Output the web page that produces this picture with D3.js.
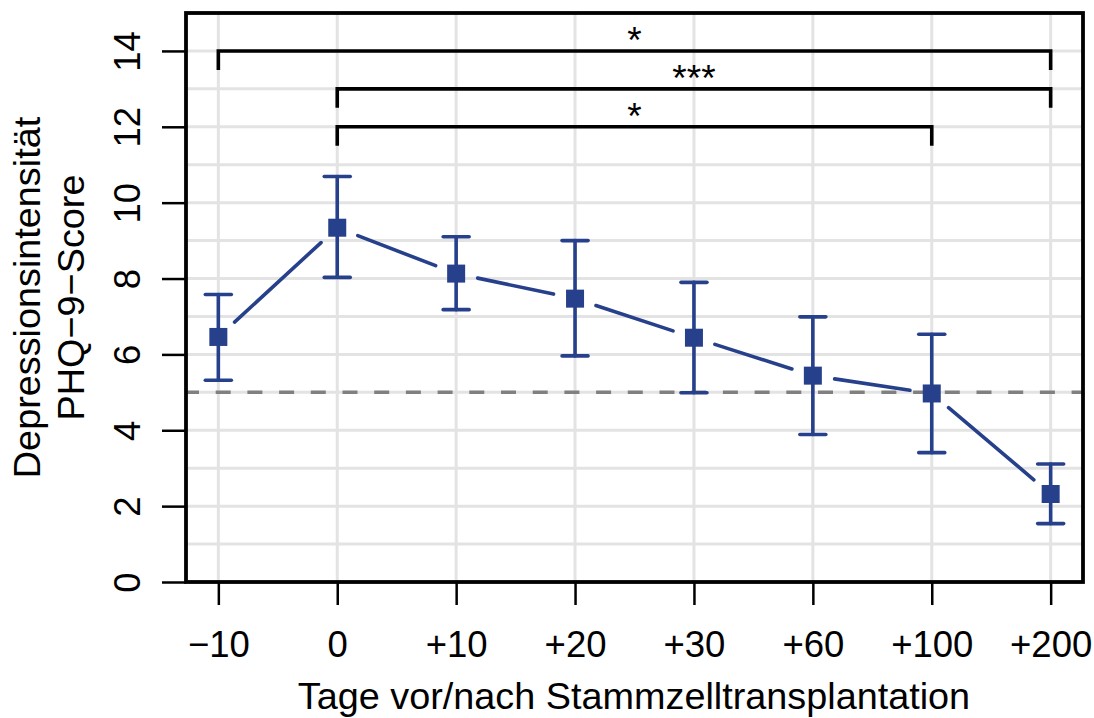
<!DOCTYPE html>
<html>
<head>
<meta charset="utf-8">
<script src="https://cdn.jsdelivr.net/npm/d3@7"></script>
<style>
  html, body { margin: 0; padding: 0; background: #fff; }
  svg { display: block; font-family: "Liberation Sans", Arial, Helvetica, sans-serif; }
</style>
</head>
<body>
<div id="chart"></div>
<script>
// data
const days = ["\u221210", "0", "+10", "+20", "+30", "+60", "+100", "+200"];
const meanScore = [6.46, 9.34, 8.13, 7.47, 6.44, 5.44, 4.97, 2.32];
const upperCI = [7.58, 10.69, 9.10, 9.00, 7.90, 6.99, 6.53, 3.11];
const lowerCI = [5.32, 8.03, 7.18, 5.96, 4.99, 3.89, 3.41, 1.54];
const yTicks = [0, 2, 4, 6, 8, 10, 12, 14];
const cutoff = 5;

// significance brackets
const bracketFrom = ["\u221210", "0", "0"];
const bracketTo = ["+200", "+200", "+100"];
const bracketLevel = [14, 13, 12];
const bracketLabel = ["*", "***", "*"];

const W = 1094, H = 718;
const margin = { top: 13, right: 11, bottom: 136, left: 186 };
const width = W - margin.left - margin.right;
const height = H - margin.top - margin.bottom;
const blue = "#27408B";

const svg = d3.select('#chart')
    .append('svg')
    .attr('width', W)
    .attr('height', H);

const g = svg.append('g')
    .attr('transform', `translate(${margin.left},${margin.top})`);

const x = d3.scalePoint()
    .domain(days)
    .range([0, width])
    .padding(0.272);

const y = d3.scaleLinear()
    .domain([0, 15])
    .range([height, 0]);

// grid
g.append('g')
    .selectAll('line')
    .data(d3.range(0, 16))
    .enter()
    .append('line')
    .attr('x1', 0).attr('x2', width)
    .attr('y1', d => y(d)).attr('y2', d => y(d))
    .attr('stroke', '#e3e3e3')
    .attr('stroke-width', 3);

g.append('g')
    .selectAll('line')
    .data(days)
    .enter()
    .append('line')
    .attr('x1', d => x(d)).attr('x2', d => x(d))
    .attr('y1', 0).attr('y2', height)
    .attr('stroke', '#e3e3e3')
    .attr('stroke-width', 3);

// cutoff line
g.append('line')
    .attr('x1', 0).attr('x2', width)
    .attr('y1', y(cutoff)).attr('y2', y(cutoff))
    .attr('stroke', '#808080')
    .attr('stroke-width', 3.5)
    .attr('stroke-dasharray', '15,16.7')
    .attr('stroke-dashoffset', 2);

// axes
const xAxis = d3.axisBottom(x).tickSize(23).tickPadding(26);
const xg = g.append('g')
    .attr('transform', `translate(0,${height})`)
    .call(xAxis);
xg.select('.domain').remove();
xg.selectAll('line').attr('stroke', '#000').attr('stroke-width', 2.5);
xg.selectAll('text')
    .attr('fill', '#000')
    .style('font-size', '36.5px');

const yAxis = d3.axisLeft(y).tickValues(yTicks).tickSize(24);
const yg = g.append('g').call(yAxis);
yg.select('.domain').remove();
yg.selectAll('line').attr('stroke', '#000').attr('stroke-width', 2.5);
yg.selectAll('text')
    .attr('x', 0)
    .attr('dy', 0)
    .attr('text-anchor', 'middle')
    .attr('transform', 'translate(-46,0) rotate(-90)')
    .attr('fill', '#000')
    .style('font-size', '36.5px');

// connecting line, with gaps round the points
const pts = days.map((d, i) => [x(d), y(meanScore[i])]);
const gap = 22;
const segs = d3.pairs(pts).map(([a, b]) => {
    const dx = b[0] - a[0], dy = b[1] - a[1];
    const len = Math.hypot(dx, dy);
    const ux = dx / len, uy = dy / len;
    return [a[0] + ux * gap, a[1] + uy * gap, b[0] - ux * gap, b[1] - uy * gap];
});
g.append('g')
    .selectAll('line')
    .data(segs)
    .enter()
    .append('line')
    .attr('x1', d => d[0]).attr('y1', d => d[1])
    .attr('x2', d => d[2]).attr('y2', d => d[3])
    .attr('stroke', blue)
    .attr('stroke-width', 3.6)
    .attr('stroke-linecap', 'round');

// error bars
const eb = g.append('g')
    .attr('stroke', blue)
    .attr('stroke-width', 3.6)
    .attr('stroke-linecap', 'round');
eb.selectAll('.v')
    .data(days)
    .enter()
    .append('line')
    .attr('x1', d => x(d)).attr('x2', d => x(d))
    .attr('y1', (d, i) => y(lowerCI[i]))
    .attr('y2', (d, i) => y(upperCI[i]));
eb.selectAll('.up')
    .data(days)
    .enter()
    .append('line')
    .attr('x1', d => x(d) - 13).attr('x2', d => x(d) + 13)
    .attr('y1', (d, i) => y(upperCI[i]))
    .attr('y2', (d, i) => y(upperCI[i]));
eb.selectAll('.lo')
    .data(days)
    .enter()
    .append('line')
    .attr('x1', d => x(d) - 13).attr('x2', d => x(d) + 13)
    .attr('y1', (d, i) => y(lowerCI[i]))
    .attr('y2', (d, i) => y(lowerCI[i]));

// points
g.append('g')
    .selectAll('rect')
    .data(days)
    .enter()
    .append('rect')
    .attr('x', d => x(d) - 9)
    .attr('y', (d, i) => y(meanScore[i]) - 9)
    .attr('width', 18)
    .attr('height', 18)
    .attr('fill', blue);

// brackets
const br = g.append('g');
bracketLabel.forEach((lab, i) => {
    const x0 = x(bracketFrom[i]), x1 = x(bracketTo[i]);
    const yl = y(bracketLevel[i]), yt = y(bracketLevel[i] - 0.5);
    br.append('path')
        .attr('d', `M${x0},${yt}V${yl}H${x1}V${yt}`)
        .attr('fill', 'none')
        .attr('stroke', '#000')
        .attr('stroke-width', 3.6);
    br.append('text')
        .attr('x', (x0 + x1) / 2)
        .attr('y', yl + 2.5)
        .attr('text-anchor', 'middle')
        .style('font-size', '37px')
        .text(lab);
});

// frame
g.append('rect')
    .attr('x', 0).attr('y', 0)
    .attr('width', width).attr('height', height)
    .attr('fill', 'none')
    .attr('stroke', '#000')
    .attr('stroke-width', 3.8);

// axis titles
svg.append('text')
    .attr('x', margin.left + width / 2 - 0.5)
    .attr('y', 709)
    .attr('text-anchor', 'middle')
    .style('font-size', '37.8px')
    .text('Tage vor/nach Stammzelltransplantation');

const yt = svg.append('text')
    .attr('transform', `translate(0,${margin.top + height / 2}) rotate(-90)`)
    .attr('text-anchor', 'middle')
    .style('font-size', '37.8px');
yt.append('tspan').attr('x', 0).attr('y', 40).text('Depressionsintensit\u00e4t');
yt.append('tspan').attr('x', 0).attr('y', 84).text('PHQ\u22129\u2212Score');
</script>
</body>
</html>
